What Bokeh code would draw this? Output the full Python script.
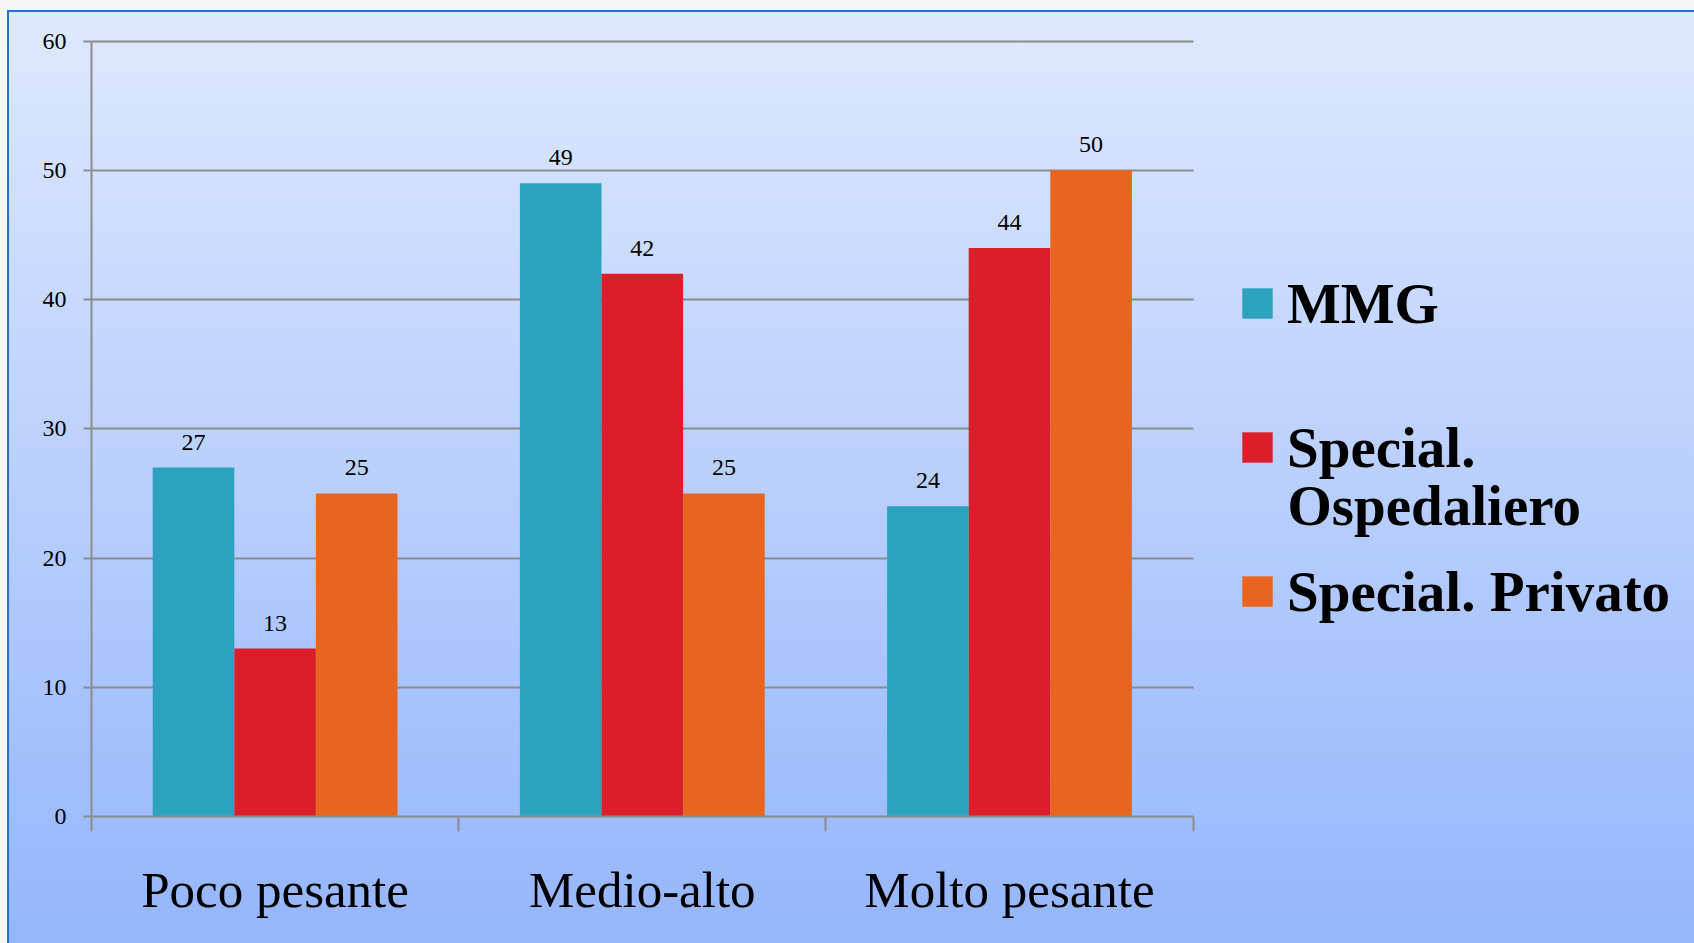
from bokeh.plotting import figure
from bokeh.models import (ColumnDataSource, Range1d, FixedTicker, LabelSet,
                          Legend, LegendItem, Label)
from bokeh.embed import file_html
from bokeh.resources import INLINE

# --- data -------------------------------------------------------------
categories = ["Poco pesante", "Medio-alto", "Molto pesante"]
series_names = ["MMG", "Special.", "Special. Privato"]
mmg = [27, 49, 24]
ospedaliero = [13, 42, 44]
privato = [25, 25, 50]
y_ticks = [0, 10, 20, 30, 40, 50, 60]

colors = ["#2ca2bf", "#db1f2a", "#e9641e"]
grey = "#8c8c8c"
serif = "Liberation Serif"

# --- geometry ---------------------------------------------------------
W, H = 1694, 943
LEFT, BOTTOM = 91, 127
PX_PER_CAT = 367.2
PX_PER_UNIT = 12.923

n = len(categories)
centers = list(range(n))
bar_w = 1 / 4.5
offsets = [-bar_w, 0.0, bar_w]

p = figure(width=W, height=H, output_backend="svg", toolbar_location=None,
           x_range=Range1d(-0.5, -0.5 + (W - LEFT) / PX_PER_CAT),
           y_range=Range1d(0, (H - BOTTOM) / PX_PER_UNIT),
           min_border_left=LEFT, min_border_right=0,
           min_border_top=0, min_border_bottom=BOTTOM)
p.background_fill_color = None
p.border_fill_color = None
p.outline_line_color = None

# slide-style gradient backdrop with a thin blue frame at top/left
p.styles = {
    "background-color": "#f7f7f7",
    "background-image": ("linear-gradient(#1c74d4,#1c74d4), "
                         "linear-gradient(#1c74d4,#1c74d4), "
                         "linear-gradient(180deg,#dee9fe 0%,#94b5fb 100%)"),
    "background-size": "100% 2px, 2px 100%, 100% 100%",
    "background-position": "7px 10px, 7px 10px, 9px 12px",
    "background-repeat": "no-repeat",
}

# --- bars and value labels -------------------------------------------
renderers = []
for vals, off, col in zip([mmg, ospedaliero, privato], offsets, colors):
    src = ColumnDataSource(dict(
        x=[c + off for c in centers],
        top=vals,
        label=[str(v) for v in vals],
    ))
    r = p.vbar(x="x", top="top", width=bar_w, source=src,
               fill_color=col, line_color=None)
    renderers.append(r)
    p.add_layout(LabelSet(x="x", y="top", text="label", source=src,
                          text_align="center", text_baseline="alphabetic",
                          y_offset=18, text_font=serif,
                          text_font_size="24px", text_color="black"))

# --- axes -------------------------------------------------------------
xa = p.xaxis[0]
xa.ticker = FixedTicker(ticks=centers,
                        minor_ticks=[c - 0.5 for c in centers] + [n - 0.5])
xa.major_label_overrides = {c: cat for c, cat in zip(centers, categories)}
xa.bounds = (-0.5, n - 0.5)
xa.major_tick_out = 0
xa.major_tick_in = 0
xa.minor_tick_out = 15
xa.minor_tick_in = 0
xa.minor_tick_line_color = grey
xa.minor_tick_line_width = 2
xa.axis_line_color = grey
xa.axis_line_width = 2
xa.major_label_standoff = 30
xa.major_label_text_font = serif
xa.major_label_text_font_size = "51px"
xa.major_label_text_color = "black"

ya = p.yaxis[0]
ya.ticker = FixedTicker(ticks=y_ticks, minor_ticks=[])
ya.bounds = (y_ticks[0], y_ticks[-1])
ya.major_tick_out = 8
ya.major_tick_in = 0
ya.major_tick_line_color = grey
ya.major_tick_line_width = 2
ya.minor_tick_out = 0
ya.minor_tick_in = 0
ya.axis_line_color = grey
ya.axis_line_width = 2
ya.major_label_standoff = 17
ya.major_label_text_font = serif
ya.major_label_text_font_size = "24px"
ya.major_label_text_color = "black"

p.xgrid.visible = False
p.ygrid.ticker = FixedTicker(ticks=y_ticks, minor_ticks=[])
p.ygrid.grid_line_color = grey
p.ygrid.grid_line_width = 2
p.ygrid.cross_bounds = (-0.5, n - 0.5)

# --- legend -----------------------------------------------------------
legend = Legend(
    items=[LegendItem(label=name, renderers=[r])
           for name, r in zip(series_names, renderers)],
    location=(1238 - LEFT, 185),
    orientation="vertical",
    glyph_width=38, glyph_height=38, label_standoff=11,
    label_height=80, spacing=64, padding=0, margin=0,
    border_line_color=None, background_fill_alpha=0,
    label_text_font=serif, label_text_font_style="bold",
    label_text_font_size="57px", label_text_color="black",
)
p.add_layout(legend)

# second line of the hospital-specialist entry
p.add_layout(Label(x=1287 - LEFT, y=(H - BOTTOM) - 528 + 23,
                   x_units="screen", y_units="screen",
                   text="Ospedaliero", text_baseline="alphabetic",
                   text_font=serif, text_font_style="bold",
                   text_font_size="57px", text_color="black"))

open("out.html", "w").write(file_html(p, INLINE))
